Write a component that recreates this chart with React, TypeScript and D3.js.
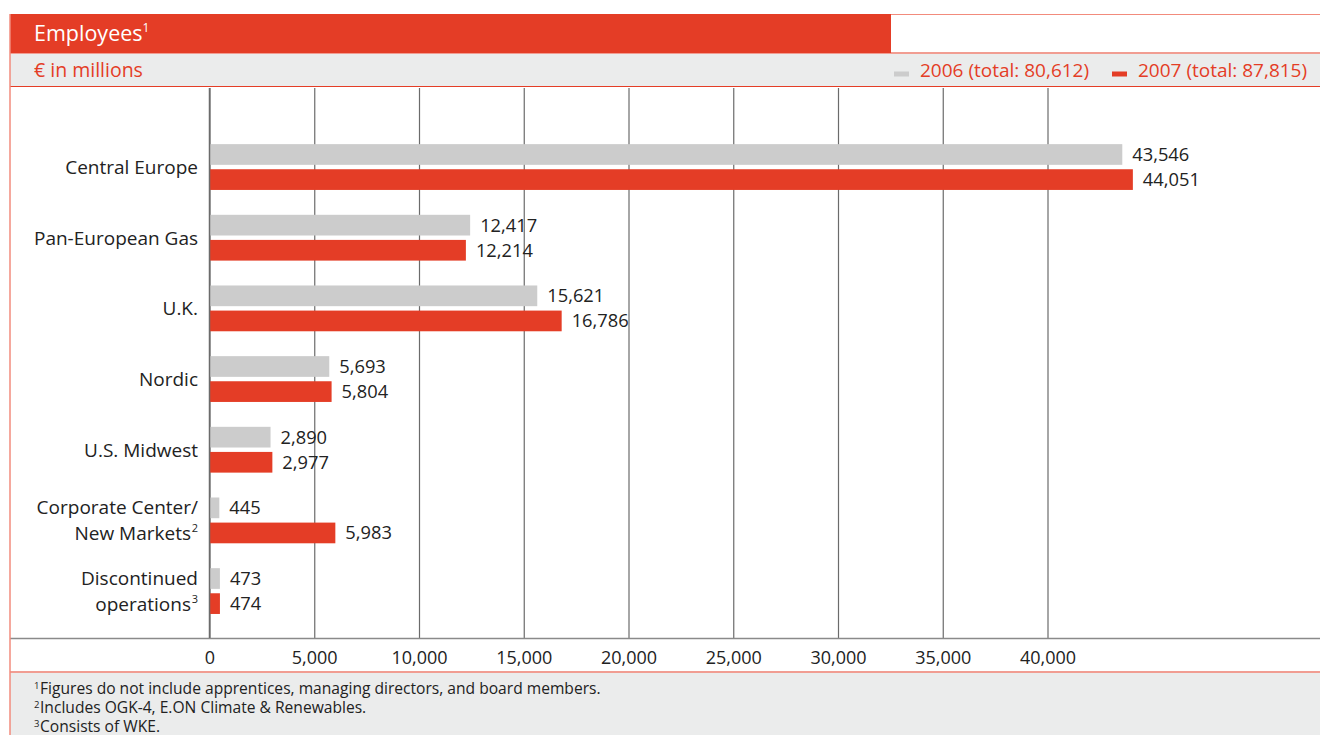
import React from "react";
import * as d3 from "d3";

const categories = [
  ["Central Europe"],
  ["Pan-European Gas"],
  ["U.K."],
  ["Nordic"],
  ["U.S. Midwest"],
  ["Corporate Center/", "New Markets", "2"],
  ["Discontinued", "operations", "3"],
];
const values2006 = [43546, 12417, 15621, 5693, 2890, 445, 473];
const values2007 = [44051, 12214, 16786, 5804, 2977, 5983, 474];
const ticks = [0, 5000, 10000, 15000, 20000, 25000, 30000, 35000, 40000];
const footnotes = [
  ["1", "Figures do not include apprentices, managing directors, and board members."],
  ["2", "Includes OGK-4, E.ON Climate & Renewables."],
  ["3", "Consists of WKE."],
];

const RED = "#e43d26";
const GRAY = "#cccccc";
const BAND = "#ebecec";
const SALMON = "#f28b7c";
const FONT = "'Open Sans', 'Noto Sans', sans-serif";

export default function App() {
  const W = 1320, H = 735;
  const x = d3.scaleLinear().domain([0, 40000]).range([210, 1048]);
  const keys = categories.map((c) => c.join(" "));
  const y = d3.scaleBand().domain(keys).range([131.7, 626.4]).padding(0);
  const fmt = d3.format(",");
  const barH = 20.7;
  const gap = 2.2;

  return (
    <svg
      width={W}
      height={H}
      style={{ position: "absolute", left: 0, top: 0, fontFamily: FONT }}
    >
      <rect x={0} y={0} width={W} height={H} fill="#fff" />
      {/* title bar */}
      <rect x={10} y={14} width={881} height={39.5} fill={RED} />
      <line x1={891} x2={W} y1={14.5} y2={14.5} stroke={SALMON} strokeWidth={1} />
      <line x1={891} x2={W} y1={53} y2={53} stroke={RED} strokeWidth={1.2} />
      <text x={34} y={41} fill="#fff" fontSize={21.5}>
        Employees<tspan fontSize={12} dy={-9}>1</tspan>
      </text>
      {/* subtitle band */}
      <rect x={10} y={54} width={W - 10} height={32} fill={BAND} />
      <line x1={10} x2={W} y1={86.5} y2={86.5} stroke={RED} strokeWidth={1.2} />
      <text x={34} y={77} fill={RED} fontSize={19.5}>€ in millions</text>
      {/* legend */}
      <rect x={894} y={71.5} width={15} height={5} fill={GRAY} />
      <text x={920} y={77} fill={RED} fontSize={19}>2006 (total: 80,612)</text>
      <rect x={1112} y={71.5} width={15} height={5} fill={RED} />
      <text x={1138} y={77} fill={RED} fontSize={19}>2007 (total: 87,815)</text>

      {/* grid */}
      {ticks.map((t) => (
        <line key={t} x1={x(t)} x2={x(t)} y1={88} y2={638} stroke="#6b6b6b" strokeWidth={1.2} />
      ))}
      {/* axis line */}
      <line x1={10} x2={W} y1={638.5} y2={638.5} stroke="#8a8a8a" strokeWidth={1.5} />
      {ticks.map((t) => (
        <text key={"l" + t} x={x(t)} y={663.5} textAnchor="middle" fontSize={18} fill="#222">
          {fmt(t)}
        </text>
      ))}

      {/* bars */}
      {keys.map((k, i) => {
        const c = (y(k) as number) + y.bandwidth() / 2;
        const v6 = values2006[i];
        const v7 = values2007[i];
        const cat = categories[i];
        return (
          <g key={k}>
            <rect x={x(0)} y={c - gap - barH} width={x(v6) - x(0)} height={barH} fill={GRAY} />
            <rect x={x(0)} y={c + gap} width={x(v7) - x(0)} height={barH} fill={RED} />
            <text x={x(v6) + 10} y={c - gap - barH / 2 + 6.5} fontSize={18.3} fill="#222">
              {fmt(v6)}
            </text>
            <text x={x(v7) + 10} y={c + gap + barH / 2 + 6.5} fontSize={18.3} fill="#222">
              {fmt(v7)}
            </text>
            {cat.length === 1 ? (
              <text x={198} y={c + 7} textAnchor="end" fontSize={19} fill="#222">
                {cat[0]}
              </text>
            ) : (
              <text textAnchor="end" fontSize={19} fill="#222">
                <tspan x={198} y={c - 6}>{cat[0]}</tspan>
                <tspan x={198 - 7} y={c + 20}>{cat[1]}</tspan>
                <tspan x={198} y={c + 12} fontSize={11}>{cat[2]}</tspan>
              </text>
            )}
          </g>
        );
      })}
      <line x1={209.5} x2={209.5} y1={88} y2={638} stroke="#6b6b6b" strokeWidth={1.5} />

      {/* footnotes */}
      <line x1={10} x2={W} y1={672} y2={672} stroke={RED} strokeWidth={1.2} />
      <rect x={10} y={673} width={W - 10} height={H - 673} fill={BAND} />
      {footnotes.map((f, i) => (
        <text key={i} fontSize={15.6} fill="#222">
          <tspan x={34} y={689 + i * 19} fontSize={9.5}>{f[0]}</tspan>
          <tspan x={40} y={694 + i * 19}>{f[1]}</tspan>
        </text>
      ))}
      {/* left frame */}
      <line x1={10} x2={10} y1={14} y2={H} stroke={SALMON} strokeWidth={1.5} />
    </svg>
  );
}
